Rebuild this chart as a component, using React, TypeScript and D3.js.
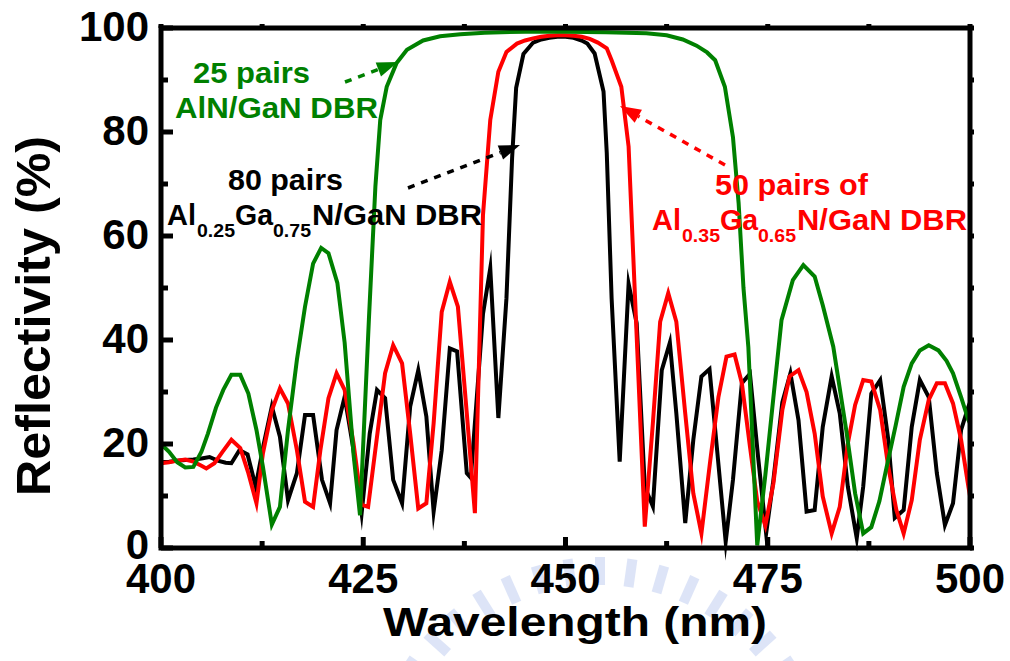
import React from "react";
import * as d3 from "d3";

// ---- data (wavelength nm, reflectivity %) ----
const black80: [number, number][] = [
  [400,16.5],[401,16.6],[402,16.8],[403,16.9],[404,17.0],[405,17.2],[406,17.5],[407,16.8],[408,16.4],[408.7,16.3],
  [409.7,18.8],[410.7,18.0],[411.7,11.8],[412.7,20],[413.7,27.2],[414.7,21.4],[415.7,9.2],[416.8,14.4],[417.8,25.6],
  [418.8,25.6],[419.9,13.1],[420.9,8.6],[421.7,22.7],[422.7,29.1],[423.8,18.8],[424.8,6.7],[425.8,22],[426.7,30.4],
  [427.7,28.8],[428.7,13.1],[429.8,8.6],[430.8,27.2],[431.8,34.2],[432.8,25.3],[433.7,7],[434.7,18.8],[435.7,38.4],
  [436.6,37.8],[437.8,14.4],[438.3,13.5],[439.8,45],[440.7,53.8],[441.7,25],[442.7,48],[443.4,75],[443.9,88.5],
  [444.8,95],[446,97.2],[447,97.8],[448,98.1],[449,98.3],[450,98.3],[451,98.1],[452,97.6],[452.7,97],[453.6,95.1],
  [454.7,87.8],[455.1,76],[455.7,48],[456.7,16.6],[457.8,50.8],[458.8,43.2],[459.8,11.8],[460.8,8.0],[461.9,34.2],
  [462.9,39.5],[463.7,25.9],[464.8,4.8],[465.8,20.8],[466.8,33],[467.8,34.4],[468.7,19.5],[469.8,1.2],[470.7,13.1],
  [471.8,31.7],[472.8,33.5],[473.8,17.6],[474.8,2.8],[475.7,13.1],[476.8,28],[477.8,33.6],[478.8,24.6],[479.8,7],
  [480.8,7.3],[481.8,23.3],[482.9,33],[483.9,25.9],[484.9,11.8],[486,1.9],[486.8,11.8],[487.8,29.7],[488.9,32.3],
  [489.9,20.8],[490.7,5.8],[491.8,7.3],[492.8,23.3],[493.8,32.3],[494.9,29],[495.9,14.4],[496.9,4.4],[497.9,8.6],
  [498.9,22.7],[499.8,27.2],[500,28]
];

const red50: [number, number][] = [
  [400,16.3],[401,16.5],[402,16.8],[403,17.0],[404,16.6],[405,15.8],[405.6,15.3],[406.6,16.3],[407.6,18.5],[408.7,20.8],
  [409.8,19.2],[410.8,14.4],[411.8,8.6],[412.6,18.2],[413.7,26.5],[414.7,30.7],[415.7,27.8],[416.8,18.8],[417.8,8.9],
  [418.8,7.9],[419.7,18.8],[420.7,28.8],[421.7,33.6],[422.7,30.4],[423.8,20.1],[424.8,8.3],[425.6,7.9],[426.7,21.4],
  [427.7,33.6],[428.7,39],[429.8,35.5],[430.8,22],[431.8,7.6],[432.8,8.6],[433.7,24],[434.7,45.4],[435.7,51.2],
  [436.7,46.4],[437.8,25.9],[438.8,6.7],[439.8,64],[440.7,82.3],[441.7,91.6],[442.7,95.4],[444,97],[445,97.6],
  [446,98],[447,98.3],[448,98.5],[449,98.6],[450,98.6],[451,98.5],[452,98.3],[453,97.9],[454,97.2],[455.1,96.1],
  [455.7,93.8],[456.9,88.7],[457.8,77.2],[459.8,4.1],[460.8,24],[461.7,43.5],[462.7,49],[463.7,43.5],[464.8,25.9],
  [465.8,10.5],[466.8,2.8],[467.9,16.9],[468.9,29],[469.9,36.8],[470.9,37.2],[471.8,31.7],[472.8,19.5],[473.7,9],
  [474.7,4.3],[475.7,12.4],[476.8,26.5],[477.7,33],[478.8,34.2],[479.8,30],[480.8,22],[481.8,9.9],[482.9,2.8],
  [483.9,7.9],[484.9,20.1],[485.8,27.5],[486.8,32.3],[487.8,32],[488.9,26.5],[489.9,15.6],[490.9,7.3],[491.8,2.8],
  [492.8,9.2],[493.8,20.8],[494.9,28.5],[495.9,31.7],[496.9,31.7],[497.9,27.8],[498.9,20.8],[499.8,11.8],[500,10]
];

const green25: [number, number][] = [
  [400,20],[401,18.5],[402,16.5],[403,15.5],[404,15.6],[405,18.5],[405.8,22],[406.8,27],[407.7,30.4],[408.7,33.3],
  [409.8,33.3],[410.8,29.7],[411.8,22.7],[412.6,15.6],[413.7,4.5],[414.7,7.9],[415.7,22.7],[416.8,36.2],[417.8,46.4],
  [418.8,54.7],[419.8,57.7],[420.7,56.7],[421.8,51],[422.7,39.5],[423.8,18],[424.6,6.3],[425.7,44],[426.5,69.5],
  [427.1,82.3],[427.9,88.7],[429.1,93.2],[430.4,95.8],[432.4,97.6],[434.5,98.4],[437,98.8],[440,99.1],[445,99.3],
  [450,99.3],[455,99.2],[460,99],[462.5,98.6],[464.5,97.8],[466.2,96.6],[467.5,95.3],[468.5,93.8],[469.7,88.7],
  [470.7,79],[471.4,66.3],[472,50],[472.6,38.7],[473.7,0.5],[474.7,14],[475.7,29],[476.7,43.8],[478.1,51.5],
  [479.4,54.4],[480.8,52.2],[481.8,46.7],[483.1,38.7],[484.7,22.7],[485.8,10.5],[486.8,2.8],[487.8,4],[488.8,9],
  [489.7,15.6],[490.8,23.5],[491.8,31],[492.8,35.5],[493.8,38],[494.9,39],[496.1,38],[497.1,36],[497.9,33.6],
  [498.9,29],[499.8,24.6],[500,24]
];

const xMajorTicks = [400, 425, 450, 475, 500];
const xMinorTicks = [412.5, 437.5, 462.5, 487.5];
const yMajorTicks = [0, 20, 40, 60, 80, 100];
const yMinorTicks = [10, 30, 50, 70, 90];

const FONT = "'Liberation Sans', Arial, Helvetica, sans-serif";

function Arrow({ x1, y1, x2, y2, color }: { x1: number; y1: number; x2: number; y2: number; color: string }) {
  const dx = x2 - x1, dy = y2 - y1;
  const len = Math.hypot(dx, dy);
  const ux = dx / len, uy = dy / len;
  const L = 21, W = 7.5;
  const bx = x2 - ux * L, by = y2 - uy * L;
  const px = -uy, py = ux;
  const pts = `${x2},${y2} ${bx + px * W},${by + py * W} ${bx - px * W},${by - py * W}`;
  return (
    <g>
      <line x1={x1} y1={y1} x2={bx} y2={by} stroke={color} strokeWidth={3.5} strokeDasharray="7,7" />
      <polygon points={pts} fill={color} />
    </g>
  );
}

export default function App() {
  const x = d3.scaleLinear().domain([400, 500]).range([161, 970]);
  const y = d3.scaleLinear().domain([0, 100]).range([548, 28]);
  const line = d3.line<[number, number]>().x(d => x(d[0])).y(d => y(d[1]));

  // watermark bars
  const wmCx = 600, wmCy = 790, wmR = 205;
  const wmAngles = d3.range(198, 345, 8);

  return (
    <svg width={1010} height={661} style={{ position: "absolute", left: 0, top: 0, background: "#fff" }}
      fontFamily={FONT}>
      <rect x={0} y={0} width={1010} height={661} fill="#fff" />
      {/* watermark */}
      <g opacity={0.35}>
        {wmAngles.map((a, i) => {
          const r = (a * Math.PI) / 180;
          const x1 = wmCx + Math.cos(r) * wmR, y1 = wmCy + Math.sin(r) * wmR;
          const x2 = wmCx + Math.cos(r) * (wmR + 28), y2 = wmCy + Math.sin(r) * (wmR + 28);
          return <line key={i} x1={x1} y1={y1} x2={x2} y2={y2} stroke="#9fb4ea" strokeWidth={10} />;
        })}
      </g>

      {/* series */}
      <path d={line(black80) || ""} fill="none" stroke="#000" strokeWidth={4} strokeLinejoin="miter" strokeMiterlimit={10} />
      <path d={line(red50) || ""} fill="none" stroke="#ff0000" strokeWidth={4} strokeLinejoin="miter" strokeMiterlimit={10} />
      <path d={line(green25) || ""} fill="none" stroke="#008000" strokeWidth={4} strokeLinejoin="miter" strokeMiterlimit={10} />

      {/* frame */}
      <rect x={x(400)} y={y(100)} width={x(500) - x(400)} height={y(0) - y(100)} fill="none" stroke="#000" strokeWidth={5} />

      {/* ticks */}
      {xMajorTicks.map(t => (
        <g key={"xM" + t}>
          <line x1={x(t)} x2={x(t)} y1={y(0)} y2={y(0) - 11} stroke="#000" strokeWidth={5} />
          <line x1={x(t)} x2={x(t)} y1={y(100)} y2={y(100) - 4} stroke="#000" strokeWidth={5} />
          <text x={x(t)} y={593} textAnchor="middle" fontSize={42} fontWeight="bold" textLength={70} lengthAdjust="spacingAndGlyphs">{t}</text>
        </g>
      ))}
      {xMinorTicks.map(t => (
        <g key={"xm" + t}>
          <line x1={x(t)} x2={x(t)} y1={y(0)} y2={y(0) - 7} stroke="#000" strokeWidth={5} />
          <line x1={x(t)} x2={x(t)} y1={y(100)} y2={y(100) - 4} stroke="#000" strokeWidth={5} />
        </g>
      ))}
      {yMajorTicks.map(t => (
        <g key={"yM" + t}>
          <line x1={x(400)} x2={x(400) + 12} y1={y(t)} y2={y(t)} stroke="#000" strokeWidth={5} />
          <line x1={x(500)} x2={x(500) + 4} y1={y(t)} y2={y(t)} stroke="#000" strokeWidth={5} />
          <text x={149} y={y(t) + (t === 0 ? 11 : 13)} textAnchor="end" fontSize={42} fontWeight="bold">{t}</text>
        </g>
      ))}
      {yMinorTicks.map(t => (
        <g key={"ym" + t}>
          <line x1={x(400)} x2={x(400) + 7} y1={y(t)} y2={y(t)} stroke="#000" strokeWidth={5} />
          <line x1={x(500)} x2={x(500) + 4} y1={y(t)} y2={y(t)} stroke="#000" strokeWidth={5} />
        </g>
      ))}

      {/* axis titles */}
      <text x={575} y={636} textAnchor="middle" fontSize={41} fontWeight="bold" textLength={384} lengthAdjust="spacingAndGlyphs">Wavelength (nm)</text>
      <text transform="translate(50,316) rotate(-90)" textAnchor="middle" fontSize={49} fontWeight="bold" textLength={360} lengthAdjust="spacingAndGlyphs">Reflectivity (%)</text>

      {/* annotations: green */}
      <g fill="#008000" fontWeight="bold">
        <text x={193} y={83} fontSize={29} textLength={117} lengthAdjust="spacingAndGlyphs">25 pairs</text>
        <text x={175} y={118} fontSize={29} textLength={203} lengthAdjust="spacingAndGlyphs">AlN/GaN DBR</text>
      </g>
      <Arrow x1={345} y1={82} x2={398} y2={62} color="#008000" />

      {/* annotations: black */}
      <g fill="#000" fontWeight="bold">
        <text x={228} y={190} fontSize={29} textLength={115} lengthAdjust="spacingAndGlyphs">80 pairs</text>
        <text x={167} y={225} fontSize={29}>Al</text>
        <text x={197} y={237} fontSize={18} textLength={38} lengthAdjust="spacingAndGlyphs">0.25</text>
        <text x={235} y={225} fontSize={29} textLength={38} lengthAdjust="spacingAndGlyphs">Ga</text>
        <text x={273} y={237} fontSize={18} textLength={38} lengthAdjust="spacingAndGlyphs">0.75</text>
        <text x={312} y={225} fontSize={29} textLength={170} lengthAdjust="spacingAndGlyphs">N/GaN DBR</text>
      </g>
      <Arrow x1={408} y1={188} x2={520} y2={145} color="#000" />

      {/* annotations: red */}
      <g fill="#ff0000" fontWeight="bold">
        <text x={715} y={195} fontSize={29} textLength={153} lengthAdjust="spacingAndGlyphs">50 pairs of</text>
        <text x={652} y={230} fontSize={29}>Al</text>
        <text x={682} y={242} fontSize={18} textLength={38} lengthAdjust="spacingAndGlyphs">0.35</text>
        <text x={720} y={230} fontSize={29} textLength={38} lengthAdjust="spacingAndGlyphs">Ga</text>
        <text x={758} y={242} fontSize={18} textLength={38} lengthAdjust="spacingAndGlyphs">0.65</text>
        <text x={797} y={230} fontSize={29} textLength={170} lengthAdjust="spacingAndGlyphs">N/GaN DBR</text>
      </g>
      <Arrow x1={725} y1={165} x2={620} y2={106} color="#ff0000" />
    </svg>
  );
}
